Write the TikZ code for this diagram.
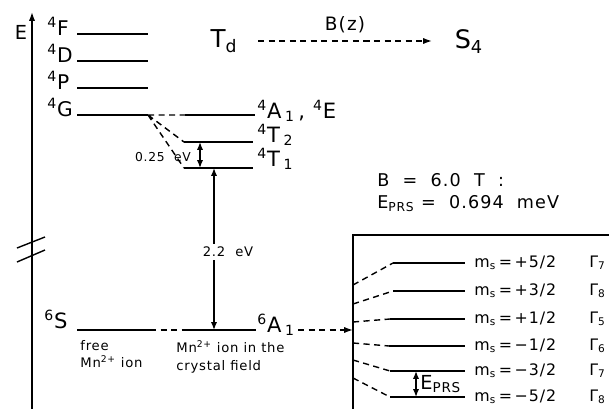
\documentclass[tikz,border=0pt]{standalone}
\usepackage{fontspec}
\setmainfont{DejaVu Sans}[LetterSpace=6]
\usetikzlibrary{arrows.meta}
\tikzset{
  lvl/.style={line width=1.4pt},
  dsh/.style={line width=0.8pt,dash pattern=on 3.5pt off 2.5pt},
  arr/.style={line width=0.7pt,{Latex[length=4.5pt,width=3.5pt]}-{Latex[length=4.5pt,width=3.5pt]}},
  tip/.style={-{Latex[length=5pt,width=3.5pt]}},
  lab/.style={inner sep=0pt,anchor=base west,font=\fontsize{11.5}{13}\selectfont},
  biglab/.style={inner sep=0pt,anchor=base west,font=\fontsize{12}{14}\selectfont},
  small/.style={inner sep=0pt,align=left,font=\fontsize{7.5}{10}\selectfont},
  mslab/.style={inner sep=0pt,anchor=west,font=\fontsize{9}{11}\selectfont}
}
\begin{document}
\begin{tikzpicture}[x=0.02cm,y=-0.02cm]
\useasboundingbox (0,0) rectangle (609,409);
\coordinate (Ebot) at (32,409);
\coordinate (Etop) at (32,12);
\draw[line width=0.8pt,tip] (Ebot) -- (Etop);
\draw[line width=0.8pt] (17,248) -- (45,237) (17,262) -- (45,250);
\node[font=\fontsize{11}{13}\selectfont] (E) at (21,32) {E};

\foreach \y/\t in {34/F,61/D,88/P,115/G} {
  \node[lab] (lab\t) at (47,\y+1) {\textsuperscript{4}\t};
  \draw[lvl] (77,\y) coordinate (\t l) -- (148,\y) coordinate (\t r);
}

\draw[lvl] (185,115) coordinate (Al) -- (255,115);
\draw[lvl] (184,142) coordinate (Ttl) -- (253,142);
\draw[lvl] (184,168) coordinate (Tol) -- (253,168);
\draw[dsh] (Gr) -- (Al) (Gr) -- (Ttl) (Gr) -- (Tol);
\node[biglab] (labA) at (257,118) {\textsuperscript{4}A\,\textsubscript{1}\,,~\textsuperscript{4}E};
\node[biglab] (labTt) at (257,142) {\textsuperscript{4}T\,\textsubscript{2}};
\node[biglab] (labTo) at (257,166) {\textsuperscript{4}T\,\textsubscript{1}};
\node[small,font=\fontsize{7}{9}\selectfont] (cf1) at (163,157) {0.25~~eV};
\coordinate (ca) at (200,142);
\coordinate (cb) at (200,168);
\draw[arr] (ca) -- (cb);

\draw[lvl] (77,330) coordinate (Sl) -- (150,330) coordinate (Sr);
\draw[lvl] (185,330) coordinate (Bl) -- (256,330) coordinate (Br);
\draw[dsh] (Sr) -- (Bl);
\node[biglab] (labS) at (44,328) {\textsuperscript{6}S};
\node[biglab] (labB) at (257,332) {\textsuperscript{6}A\,\textsubscript{1}};
\coordinate (ga) at (214,168);
\coordinate (gb) at (214,330);
\draw[arr] (ga) -- (gb);
\node[small,fill=white,inner sep=1.5pt] (gap) at (228,252) {2.2~~eV};
\node[small,anchor=north west] (free) at (80,340) {free\\Mn\textsuperscript{2+} ion};
\node[small,anchor=north west] (cryst) at (176,340) {Mn\textsuperscript{2+} ion in the\\crystal field};

\node[font=\fontsize{14}{16}\selectfont,anchor=base] (Td) at (224,48) {T\textsubscript{d}};
\node[font=\fontsize{14.5}{16}\selectfont,anchor=base] (S4) at (469,49) {S\textsubscript{4}};
\coordinate (za) at (258,41);
\coordinate (zb) at (432,41);
\draw[dsh,tip] (za) -- node[above=1pt,font=\fontsize{10.5}{12}\selectfont] (Bz) {B(z)} (zb);

\node[anchor=base west,inner sep=0pt,font=\fontsize{10}{12}\selectfont] (Bf) at (377,186) {B~~=~~6.0~~T~~:};
\node[anchor=base west,inner sep=0pt,font=\fontsize{10}{12}\selectfont] (Ep) at (377,208) {E\textsubscript{PRS}~=~~0.694~~meV};

\coordinate (boxl) at (353,420);
\draw[line width=0.9pt] (boxl) -- (353,235) -- (620,235);
\coordinate (ea) at (298,330);
\coordinate (eb) at (353,330);
\draw[dsh,tip] (ea) -- (eb);

\foreach \y/\s/\x/\m/\g in {263/285/393/+5/7,291/304/393/+3/8,319/322/390/+1/5,346/343/389/−1/6,371/360/390/−3/7,397/378/390/−5/8} {
  \draw[lvl] (\x,\y) coordinate (ms\g\y) -- (465,\y);
  \draw[dsh] (353,\s) -- (ms\g\y);
  \node[mslab] (m\y) at (474,\y) {m\textsubscript{s}\,=\,\m/2};
  \node[mslab] (g\y) at (589,\y) {Γ\textsubscript{\g}};
}
\coordinate (pa) at (416,371);
\coordinate (pb) at (416,397);
\draw[arr] (pa) -- (pb);
\node[anchor=west,inner sep=0pt,font=\fontsize{11}{13}\selectfont] (Eprs) at (420,384) {E\textsubscript{PRS}};
\end{tikzpicture}
\end{document}
